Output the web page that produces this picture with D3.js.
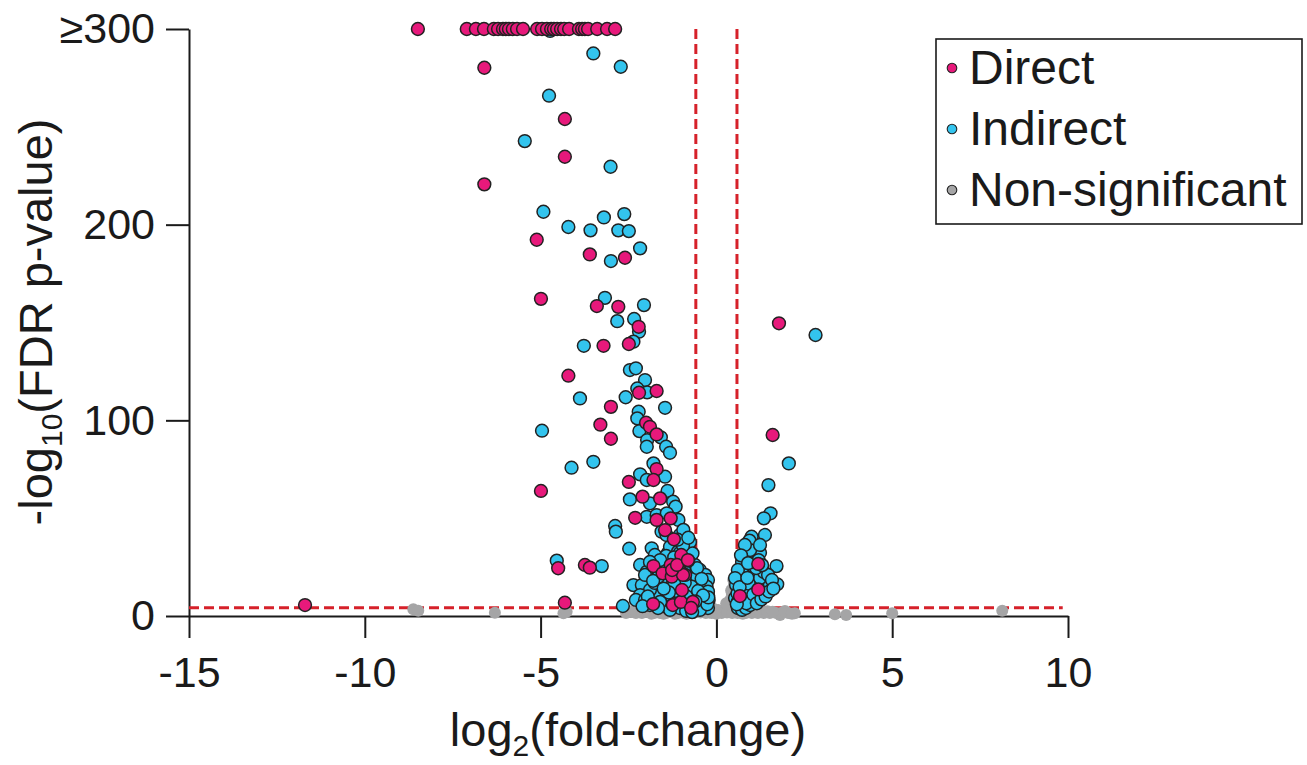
<!DOCTYPE html>
<html><head><meta charset="utf-8">
<script src="https://cdn.jsdelivr.net/npm/d3@7"></script>
<style>
body{margin:0;background:#fff}
text{font-family:"Liberation Sans",Arial,Helvetica,sans-serif;fill:#1a1a1a}
</style>
</head><body>
<svg id="chart" width="1307" height="765"></svg>
<script>
// ---------- data ----------
const xTicks = [-15, -10, -5, 0, 5, 10];
const yTicks = [0, 100, 200, 300];
const yTickLabels = ["0", "100", "200", "\u2265300"];
const categories = ["Direct", "Indirect", "Non-significant"];
const fcCutoff = 0.585;     // |log2 fold-change| threshold
const sigCutoff = 4.2;      // -log10(FDR) threshold line

// [log2(fold-change), -log10(FDR p-value)]
const directPoints = [
  [-8.49,300],[-7.10,300],[-6.84,300],[-6.61,300],[-6.33,300],[-6.21,300],[-6.07,300],[-5.99,300],
  [-5.90,300],[-5.79,300],[-5.67,300],[-5.50,300],[-5.10,300],[-4.96,300],[-4.82,300],[-4.70,300],
  [-4.62,300],[-4.53,300],[-4.42,300],[-4.33,300],[-4.19,300],[-3.91,300],[-3.82,300],[-3.74,300],
  [-3.65,300],[-3.39,300],[-3.11,300],[-2.88,300],
  [-6.60,280.2],[-4.31,254.0],[-4.31,234.7],[-6.60,220.6],[-5.11,192.3],[-3.60,184.8],[-2.60,183.1],
  [-4.99,162.1],[-3.40,158.4],[-2.79,158.0],[-2.21,147.8],[-3.21,138.1],[-2.49,139.0],[-4.21,122.8],
  [-2.20,114.1],[-1.70,115.0],[-3.00,106.9],[-3.30,97.8],[-2.00,98.8],[-1.89,96.7],[-1.70,92.8],
  [-3.00,90.6],[-4.99,63.9],[-1.70,75.1],[-1.79,69.5],[-2.49,68.5],[-2.10,61.0],[-1.60,60.1],
  [-2.31,50.2],[-1.70,49.1],[-1.30,49.9],[-1.46,43.9],[-1.21,39.2],[-1.00,31.2],[-0.80,28.3],
  [-1.79,25.5],[-1.30,26.1],[-1.53,21.8],[-0.99,22.1],[-0.89,21.0],[-1.27,20.1],[-4.50,24.4],
  [-3.74,26.1],[-3.60,24.7],[-4.31,6.8],[-1.80,6.1],[-11.70,5.6],
  [-1.24,5.6],[-1.01,7.2],[-0.67,7.2],[-0.72,4.1],[-0.98,13.3],[-0.95,21.0],[-1.26,23.5],
  [-1.12,26.1],[-0.81,28.6],
  [1.78,149.6],[1.60,92.5],[1.19,26.6],[1.19,13.6],[0.67,10.2]
];

const indirectPoints = [
  [-4.73,299],[-3.50,287.5],[-2.72,280.7],[-4.76,265.9],[-5.45,242.7],[-3.01,229.6],[-4.92,206.6],
  [-3.20,203.7],[-2.62,205.4],[-4.21,198.8],[-3.58,197.1],[-2.79,197.1],[-2.49,196.7],[-2.17,187.9],
  [-3.00,181.4],[-3.17,162.6],[-2.06,158.9],[-2.82,150.7],[-2.34,151.8],[-2.20,145.3],[-3.77,138.1],
  [-2.36,140.2],[-2.46,125.7],[-2.29,126.6],[-2.03,120.6],[-2.25,116.3],[-1.97,114.3],[-3.88,111.2],
  [-2.58,111.8],[-1.46,106.4],[-2.21,104.4],[-2.25,101.0],[-2.19,94.5],[-1.58,91.3],[-1.97,89.9],
  [-1.98,86.5],[-1.43,86.5],[-1.32,83.4],[-4.96,94.7],[-3.50,78.8],[-4.12,75.8],[-1.79,78.0],
  [-2.17,72.4],[-1.98,69.5],[-1.46,71.2],[-1.39,63.9],[-2.46,59.6],[-1.89,57.6],[-1.23,58.4],
  [-1.16,55.9],[-1.98,50.7],[-1.70,51.6],[-1.41,52.5],[-1.08,49.1],[-2.88,46.0],[-2.86,43.1],
  [-1.56,43.1],[-1.42,41.4],[-1.04,41.4],[-0.94,44.0],[-2.48,34.4],[-1.84,34.6],[-1.75,31.2],
  [-1.38,32.2],[-1.32,35.4],[-1.09,32.9],[-0.85,33.7],[-0.90,30.3],[-3.26,25.5],[-2.17,26.1],
  [-1.98,22.6],[-2.36,15.8],[-2.12,15.8],[-2.66,5.1],[-4.54,28.3],
  [-0.75,28.6],[-0.61,26.1],[-0.47,23.5],[-0.32,21.0],[-0.24,18.4],[-0.92,23.5],[-0.81,19.4],
  [-0.64,17.4],[-0.49,15.3],[-0.35,13.3],[-0.24,10.7],[-0.22,8.2],[-1.09,18.4],[-0.95,14.3],
  [-0.75,12.3],[-0.58,10.2],[-0.41,8.2],[-0.30,5.6],[-0.24,4.1],[-1.26,14.3],[-1.15,10.7],
  [-0.98,8.2],[-0.81,6.1],[-0.64,4.6],[-0.47,3.1],[-1.38,9.2],[-1.21,6.1],[-1.04,4.1],
  [-0.86,2.6],[-0.69,2.0],[-1.49,5.1],[-1.32,3.1],[-1.72,10.2],[-1.60,7.2],[-1.89,13.3],
  [-1.75,16.9],[-1.55,19.4],[-1.43,23.5],[-1.26,26.1],[-1.15,28.6],[-1.04,32.2],[-0.86,34.7],
  [-0.75,37.8],[-1.43,30.7],[-1.60,28.6],[-1.89,27.6],[-2.03,21.0],[-2.17,10.7],[-2.29,8.2],
  [-2.03,8.2],[-1.89,5.6],[-1.66,4.1],
  [-0.55,20.0],[-0.40,17.0],[-0.28,15.0],[-0.24,12.5],[-0.26,6.0],[-0.23,9.5],[-0.70,15.0],
  [-0.85,10.0],[-0.52,12.8],[-0.38,10.5],[-0.60,7.5],[-0.90,17.0],[-1.05,12.0],[-1.20,16.5],
  [-1.35,12.0],[-1.50,14.0],[-1.65,20.0],[-1.80,18.0],[-1.95,10.0],[-2.10,5.0],[-0.68,32.0],
  [-0.95,36.0],[-1.20,30.0],[-0.55,24.5],[-0.42,19.0],[-1.10,39.0],[-0.80,40.0],
  [1.48,66.9],[1.54,52.5],[1.35,49.9],[1.38,41.4],[1.00,40.5],[0.94,38.5],[1.24,32.3],[0.96,29.5],
  [0.81,26.9],[1.71,25.5],[1.57,15.8],[1.73,16.2],[2.82,143.6],[2.06,78.0],
  [0.53,9.2],[0.61,7.2],[0.73,5.1],[0.81,8.2],[0.90,10.2],[0.67,12.3],[0.78,14.3],[0.96,13.3],
  [1.07,15.8],[1.13,18.4],[1.01,21.0],[0.90,23.5],[0.78,21.0],[0.67,18.4],[0.56,15.8],[0.61,4.1],
  [0.73,3.1],[0.84,4.1],[0.96,5.6],[1.07,8.2],[1.18,10.2],[1.30,12.3],[1.41,14.3],[1.52,16.4],
  [1.24,19.4],[1.35,22.5],[1.13,24.5],[1.01,27.6],[0.84,30.7],[0.73,27.6],[0.61,23.5],[0.53,19.4],
  [1.47,21.0],[1.58,18.4],[0.96,33.7],[0.81,36.3],[1.24,36.3],
  [0.60,11.5],[0.70,9.0],[0.85,6.5],[0.92,16.5],[1.05,11.0],[1.15,6.5],[1.28,8.5],[1.40,10.0],
  [1.50,12.5],[1.62,14.0],[0.58,6.0],[0.66,14.8],[0.88,19.5],[1.20,28.5],[1.30,26.0],[0.70,31.0],
  [0.90,27.0]
];

const nonsigPoints = [
  [-8.62,3.4],[-8.48,2.7],[-6.30,1.7],[-4.35,1.4],[-4.26,2.2],[1.81,0.5],[2.23,1.4],[3.37,0.9],
  [3.69,0.5],[5.00,1.4],[8.13,2.7],
  [-2.57,1.5],[-2.40,2.0],[-2.29,1.5],[-2.12,1.5],[-1.95,2.0],[-1.77,1.5],[-1.60,1.5],[-1.43,1.5],
  [-1.26,2.0],[-1.09,1.5],[-0.92,1.5],[-0.75,2.0],[-0.58,2.6],[-0.47,4.1],[-0.41,6.1],[-0.35,8.2],
  [-0.32,10.2],[-0.38,12.3],[-0.52,5.1],[-0.24,3.1],[-0.18,5.1],[-0.07,3.6],[-0.13,1.5],[-0.01,1.5],
  [0.05,3.1],[0.10,2.0],[0.22,3.1],[0.33,5.1],[0.39,8.2],[0.44,11.2],[0.47,14.3],[0.50,16.4],
  [0.56,10.2],[0.67,2.0],[0.84,1.5],[1.01,1.5],[1.18,1.5],[1.35,1.5],[1.52,1.5],[1.70,1.5],
  [1.87,1.8],[2.04,1.5],
  [-2.45,2.4],[-2.00,2.6],[-1.85,1.2],[-1.68,2.4],[-1.50,1.2],[-1.35,2.4],[-1.18,1.2],[-1.00,2.4],
  [-0.85,1.2],[-0.65,1.5],[-0.45,1.8],[-0.30,1.5],[-0.20,1.8],[0.00,1.2],[0.15,1.5],[0.30,1.8],
  [0.45,1.5],[0.60,1.5],[0.75,1.2],[0.92,2.4],[1.10,2.4],[1.25,2.4],[1.45,2.4],[1.60,2.2],
  [1.95,2.6],[2.15,1.2],[-0.44,9.5],[-0.36,14.5],[0.42,13.0],[0.48,18.5],[0.52,7.0],[-0.50,7.0],
  [-0.28,6.5],[0.28,6.5]
];

// ---------- drawing ----------
const colors = {Direct:"#e7197b", Indirect:"#33c4ee", "Non-significant":"#a5a5a6"};
const svg = d3.select("#chart");
const x = d3.scaleLinear().domain([-15, 10]).range([189, 1068]);
const y = d3.scaleLinear().domain([0, 300]).range([616, 29]);

// axes (drawn first so markers sit over the axis line, as in the reference)
const xAxis = svg.append("g").attr("transform", "translate(0,616)")
  .call(d3.axisBottom(x).tickValues(xTicks).tickSize(22).tickSizeOuter(0).tickPadding(18)
    .tickFormat(d => d < 0 ? "-" + Math.abs(d) : String(d)));
const yAxis = svg.append("g").attr("transform", "translate(189,0)")
  .call(d3.axisLeft(y).tickValues(yTicks).tickSize(23).tickSizeOuter(0).tickPadding(11)
    .tickFormat((d, i) => yTickLabels[i]));
[xAxis, yAxis].forEach(g => {
  g.select(".domain").attr("stroke", "#1a1a1a").attr("stroke-width", 2);
  g.selectAll(".tick line").attr("stroke", "#1a1a1a").attr("stroke-width", 2);
  g.selectAll(".tick text").attr("font-size", 43).attr("font-family", '"Liberation Sans",Arial,sans-serif').attr("fill", "#1a1a1a");
});

// threshold lines
const red = "#d6212a";
svg.append("line").attr("x1", x(-15)).attr("x2", x(9.85)).attr("y1", y(sigCutoff)).attr("y2", y(sigCutoff))
  .attr("stroke", red).attr("stroke-width", 3).attr("stroke-dasharray", "10,5");
[-fcCutoff, fcCutoff].forEach(v => {
  svg.append("line").attr("x1", x(v)).attr("x2", x(v)).attr("y1", y(300)).attr("y2", y(sigCutoff))
    .attr("stroke", red).attr("stroke-width", 3).attr("stroke-dasharray", "10,5");
});

// points
const pts = svg.append("g");
pts.selectAll("circle.ns").data(nonsigPoints).join("circle").attr("class","ns")
  .attr("cx", d => x(d[0])).attr("cy", d => y(d[1])).attr("r", 6)
  .attr("fill", colors["Non-significant"]);
pts.selectAll("circle.ind").data(indirectPoints).join("circle").attr("class","ind")
  .attr("cx", d => x(d[0])).attr("cy", d => y(d[1])).attr("r", 6.4)
  .attr("fill", colors.Indirect).attr("stroke", "#222").attr("stroke-width", 1.5);
pts.selectAll("circle.dir").data(directPoints).join("circle").attr("class","dir")
  .attr("cx", d => x(d[0])).attr("cy", d => y(d[1])).attr("r", 6.4)
  .attr("fill", colors.Direct).attr("stroke", "#222").attr("stroke-width", 1.5);

// axis titles
const xt = svg.append("text").attr("x", 628).attr("y", 746).attr("text-anchor", "middle").attr("font-size", 47);
xt.append("tspan").text("log");
xt.append("tspan").attr("font-size", 30).attr("dy", 10).text("2");
xt.append("tspan").attr("dy", -10).text("(fold-change)");

const yt = svg.append("text").attr("transform", "translate(52,322) rotate(-90)").attr("text-anchor", "middle").attr("font-size", 47);
yt.append("tspan").text("-log");
yt.append("tspan").attr("font-size", 30).attr("dy", 10).text("10");
yt.append("tspan").attr("dy", -10).text("(FDR p-value)");

// legend
const lg = svg.append("g");
lg.append("rect").attr("x", 936).attr("y", 39).attr("width", 366).attr("height", 185)
  .attr("fill", "#fff").attr("stroke", "#1a1a1a").attr("stroke-width", 1.6);
const rowY = [84, 145, 206];
categories.forEach((c, i) => {
  lg.append("circle").attr("cx", 952).attr("cy", rowY[i] - 16).attr("r", 4.8)
    .attr("fill", colors[c]).attr("stroke", "#222").attr("stroke-width", 1.1);
  lg.append("text").attr("x", 969).attr("y", rowY[i]).attr("font-size", 48).text(c);
});
</script>
</body></html>
